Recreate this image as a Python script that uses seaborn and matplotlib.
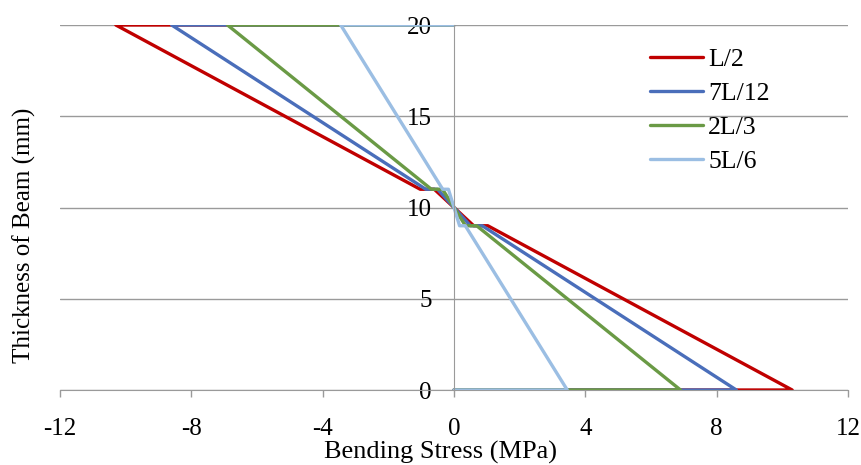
import pandas as pd
import seaborn as sns
import matplotlib.pyplot as plt

# --- data ---
thickness = [20, 20, 11, 11, 10, 9, 9, 0, 0]
positions = ["L/2", "7L/12", "2L/3", "5L/6"]
stress_L2 = [0, -10.3, -1.03, -0.6, 0, 0.6, 1.03, 10.3, 0]
stress_7L12 = [0, -8.6, -0.86, -0.5, 0, 0.5, 0.86, 8.6, 0]
stress_2L3 = [0, -6.9, -0.69, -0.35, 0, 0.35, 0.69, 6.9, 0]
stress_5L6 = [0, -3.45, -0.345, -0.17, 0, 0.17, 0.345, 3.45, 0]

colors = ["#C00000", "#4A6EBA", "#6A9A45", "#9BBEE3"]

frames = []
for name, vals in zip(positions, [stress_L2, stress_7L12, stress_2L3, stress_5L6]):
    frames.append(pd.DataFrame({"stress": vals, "thickness": thickness, "pos": name}))
df = pd.concat(frames, ignore_index=True)

sns.set_style("white")
plt.rcParams["font.family"] = ["Liberation Serif", "DejaVu Serif"]
plt.rcParams["axes.unicode_minus"] = False
plt.rcParams["text.color"] = "black"
plt.rcParams["axes.labelcolor"] = "black"
plt.rcParams["xtick.labelcolor"] = "black"
plt.rcParams["ytick.labelcolor"] = "black"

fig = plt.figure(figsize=(8.62, 4.65), dpi=100)
ax = fig.add_axes([60 / 862, 75 / 465, 788 / 862, 365 / 465])

sns.lineplot(data=df, x="stress", y="thickness", hue="pos", hue_order=positions,
             palette=colors, sort=False, estimator=None, linewidth=2.4, ax=ax)

ax.set_xlim(-12, 12)
ax.set_ylim(0, 20)
ax.set_xticks(range(-12, 13, 4))
ax.set_yticks(range(0, 21, 5))
ax.grid(axis="y", color="#9A9A9A", linewidth=1)
ax.grid(axis="x", visible=False)
ax.set_axisbelow(True)

for s in ["top", "right"]:
    ax.spines[s].set_visible(False)
ax.spines["left"].set_position(("data", 0))
ax.spines["left"].set_color("#9A9A9A")
ax.spines["bottom"].set_color("#9A9A9A")

ax.tick_params(axis="x", direction="out", length=5, width=1, color="#9A9A9A",
               labelsize=18, labelcolor="black", pad=15, bottom=True)
ax.tick_params(axis="y", length=0, labelsize=18, labelcolor="black", pad=16, left=True)

ax.set_xlabel("Bending Stress (MPa)", fontsize=19, color="black")
ax.xaxis.set_label_coords(0.4835, -0.14)
ax.set_ylabel("Thickness of Beam (mm)", fontsize=18, color="black")
ax.yaxis.set_label_coords(-0.03, 0.425)

leg = ax.legend(loc="upper left", bbox_to_anchor=(0.749, 0.936), frameon=False,
                fontsize=18.5, handlelength=2.05, handletextpad=0.2, labelspacing=0.43,
                borderpad=0, borderaxespad=0)
for t in leg.get_texts():
    t.set_color("black")

fig.savefig("out.png", dpi=100)
